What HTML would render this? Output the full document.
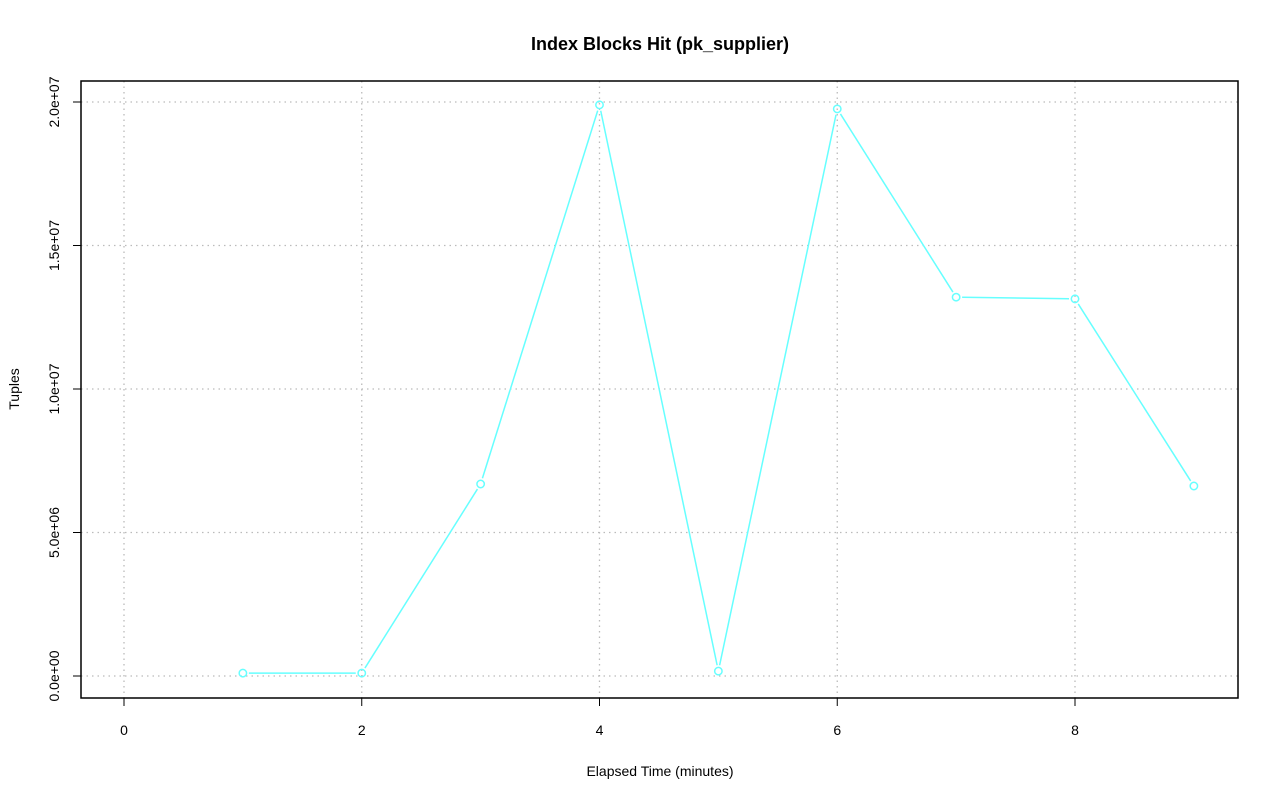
<!DOCTYPE html>
<html><head><meta charset="utf-8"><style>
html,body{margin:0;padding:0;background:#fff;}
svg{display:block;font-family:"Liberation Sans",Arial,sans-serif;}
</style></head><body>
<svg id="chart" width="1280" height="801" viewBox="0 0 1280 801">
<rect x="0" y="0" width="1280" height="801" fill="#fff"/>
<text x="660" y="50" text-anchor="middle" font-size="18" font-weight="bold">Index Blocks Hit (pk_supplier)</text>
<text x="660" y="776" text-anchor="middle" font-size="14">Elapsed Time (minutes)</text>
<text transform="translate(19,389) rotate(-90)" text-anchor="middle" font-size="14">Tuples</text>
<g id="grid"></g>
<g id="axes"></g>
<g id="series"></g>
<rect x="81" y="81" width="1157" height="617" fill="none" stroke="#000" stroke-width="1.5"/>
</svg>
<script>
const xValues = [1, 2, 3, 4, 5, 6, 7, 8, 9];
const yValues = [100000, 100000, 6690000, 19900000, 170000, 19760000, 13200000, 13140000, 6620000];
const xTicks = [0, 2, 4, 6, 8];
const yTicks = [0, 5000000, 10000000, 15000000, 20000000];
const yTickLabels = ["0.0e+00", "5.0e+06", "1.0e+07", "1.5e+07", "2.0e+07"];

const NS = "http://www.w3.org/2000/svg";
function xs(v){ return 124 + (v - 0) * (1075 - 124) / 8; }
function ys(v){ return 676 - v * (676 - 102) / 20000000; }
function mk(tag, attrs, parent){
  const e = document.createElementNS(NS, tag);
  for (const k in attrs) e.setAttribute(k, attrs[k]);
  parent.appendChild(e);
  return e;
}
const grid = document.getElementById('grid');
const axes = document.getElementById('axes');
const series = document.getElementById('series');

xTicks.forEach(t => {
  const x = xs(t);
  const g = mk('line', {x1:x, x2:x, y1:81, y2:698, stroke:'#bbb', 'stroke-dasharray':'1.5,4', 'stroke-width':1.3}, grid);
  
  
  const tk = mk('line', {x1:x, x2:x, y1:698, y2:706, stroke:'#000'}, axes);
  
  
  const lb = mk('text', {x:x, y:735, 'text-anchor':'middle', 'font-size':14}, axes);
  lb.textContent = String(t);
  
  
});
mk('line', {x1:xs(0), x2:xs(8), y1:706, y2:706, stroke:'#000', opacity:0}, axes);

yTicks.forEach((t, i) => {
  const y = ys(t);
  const g = mk('line', {x1:81, x2:1238, y1:y, y2:y, stroke:'#bbb', 'stroke-dasharray':'1.5,4', 'stroke-width':1.3}, grid);
  
  
  const tk = mk('line', {x1:73, x2:81, y1:y, y2:y, stroke:'#000'}, axes);
  
  
  const lb = mk('text', {transform:`translate(59,${y}) rotate(-90)`, 'text-anchor':'middle', 'font-size':14}, axes);
  lb.textContent = yTickLabels[i];
  
  
});

const color = '#66ffff';
const gap = 6;
for (let i = 0; i < xValues.length - 1; i++) {
  const x1 = xs(xValues[i]), y1 = ys(yValues[i]);
  const x2 = xs(xValues[i+1]), y2 = ys(yValues[i+1]);
  const d = Math.hypot(x2 - x1, y2 - y1);
  if (d <= 2 * gap) continue;
  const ux = (x2 - x1) / d, uy = (y2 - y1) / d;
  const s = mk('line', {x1:x1 + ux*gap, y1:y1 + uy*gap, x2:x2 - ux*gap, y2:y2 - uy*gap, stroke:color, 'stroke-width':1.5}, series);
  
  
}
xValues.forEach((v, i) => {
  const c = mk('circle', {cx:xs(v), cy:ys(yValues[i]), r:3.7, fill:'none', stroke:color, 'stroke-width':1.5}, series);
  
  
});
</script>
</body></html>
